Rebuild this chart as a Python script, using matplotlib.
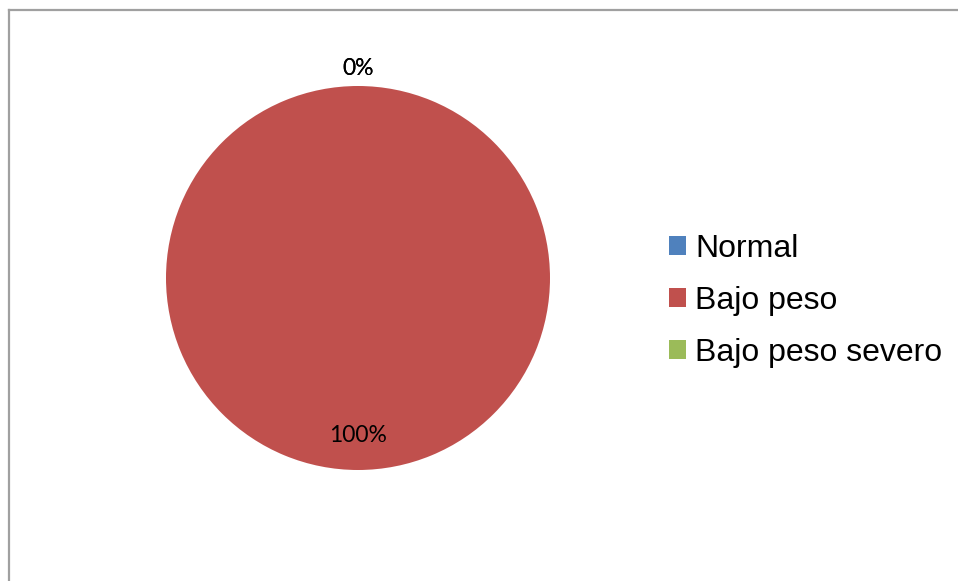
import matplotlib
matplotlib.use('Agg')

import numpy as np
import matplotlib.pyplot as plt
from matplotlib.lines import Line2D

# --- data ---
categories = ['Normal', 'Bajo peso', 'Bajo peso severo']
values = [0, 100, 0]
colors = ['#4F81BD', '#C0504D', '#9BBB59']

W, H = 958, 581
fig = plt.figure(figsize=(W / 100, H / 100), dpi=100)

# pie axes: centre (358, 278) px from top-left, radius 192 px
cx, cy, r = 358, H - 278, 192
ax = fig.add_axes([(cx - r) / W, (cy - r) / H, 2 * r / W, 2 * r / H])
wedges, _ = ax.pie(values, colors=colors, startangle=90, counterclock=False,
                   radius=1, wedgeprops=dict(linewidth=0))
ax.set_xlim(-1, 1)
ax.set_ylim(-1, 1)
ax.set_aspect('equal')
ax.axis('off')

# percentage labels: zero slices outside, others inside
total = sum(values)
angle = 90.0
for v in values:
    span = 360.0 * v / total
    mid = np.deg2rad(angle - span / 2)
    dist = 0.82 if v > 0 else 1.09
    ax.text(dist * np.cos(mid), dist * np.sin(mid), f'{v / total:.0%}',
            ha='center', va='center', fontsize=16.5, family='Lato', color='black')
    angle -= span

leg = fig.legend(wedges, categories, loc='center left',
                 bbox_to_anchor=(669 / W, 1 - 301 / H), frameon=False,
                 prop=dict(family='Liberation Sans', size=23),
                 handlelength=0.52, handleheight=0.52, handletextpad=0.3,
                 labelspacing=0.69, borderpad=0, borderaxespad=0)

# chart border (left and top edges)
fig.add_artist(Line2D([9 / W, 9 / W], [0, 1 - 10 / H], color='#A0A0A0', lw=1.6,
                      transform=fig.transFigure))
fig.add_artist(Line2D([9 / W, 1], [1 - 10 / H, 1 - 10 / H], color='#A0A0A0', lw=1.6,
                      transform=fig.transFigure))

fig.savefig('out.png', dpi=100)
